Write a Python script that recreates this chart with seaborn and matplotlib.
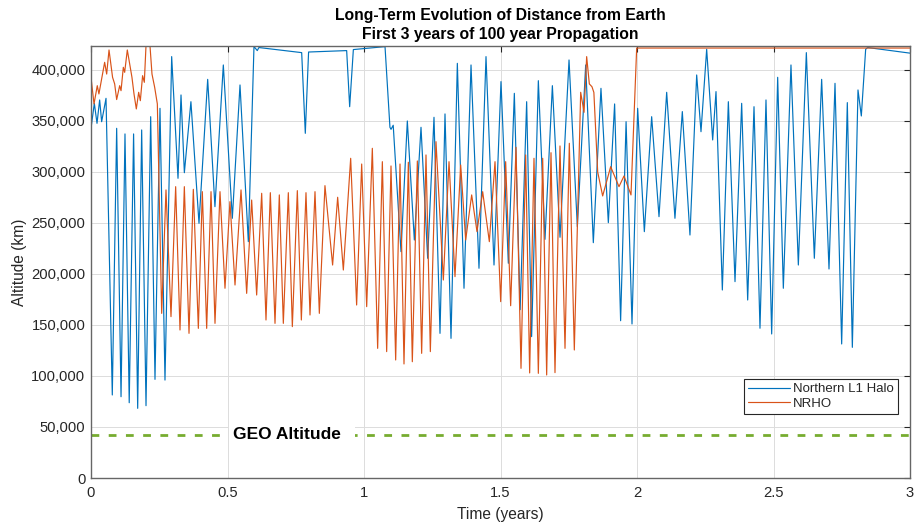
import numpy as np
import pandas as pd
import matplotlib
matplotlib.use("Agg")
import matplotlib.pyplot as plt
from matplotlib.ticker import FuncFormatter
import seaborn as sns

# ------------------------------------------------------------
# values (time in years, altitude in 1000 km)
# ------------------------------------------------------------
halo_t = [0.0, 0.0122, 0.022, 0.0317, 0.039, 0.055, 0.078, 0.094, 0.110, 0.1245,
          0.140, 0.156, 0.171, 0.1856, 0.2015, 0.2186, 0.2344, 0.2527, 0.271, 0.2955,
          0.3187, 0.3297, 0.342, 0.366, 0.3956, 0.4274, 0.454, 0.4847, 0.5177, 0.5458,
          0.5763, 0.597, 0.609, 0.615, 0.7717, 0.785, 0.797, 0.9365, 0.9475, 0.961,
          1.077, 1.095, 1.099, 1.107, 1.1355, 1.1587, 1.1844, 1.2088, 1.2332, 1.2564,
          1.2784, 1.2967, 1.3187, 1.3419, 1.3663, 1.392, 1.4212, 1.4469, 1.4762, 1.5018,
          1.5287, 1.5507, 1.572, 1.5958, 1.614, 1.6386, 1.663, 1.69, 1.718, 1.751,
          1.7815, 1.812, 1.84, 1.868, 1.895, 1.918, 1.940, 1.96, 1.9817, 2.0024,
          2.0269, 2.0537, 2.0806, 2.1087, 2.139, 2.166, 2.194, 2.2186, 2.2344, 2.2552,
          2.2772, 2.2894, 2.3126, 2.3346, 2.359, 2.3834, 2.4054, 2.4286, 2.4505, 2.4725,
          2.4933, 2.5153, 2.536, 2.564, 2.591, 2.6203, 2.6496, 2.6764, 2.7033, 2.7253,
          2.7497, 2.7704, 2.7888, 2.8095, 2.8217, 2.8376, 2.845, 3.0]
halo_km = [342.8, 367.3, 347.7, 370.6, 349.3, 372.2, 81.4, 342.8, 79.7, 337.3,
           73.8, 337.3, 68.3, 341.2, 70.9, 354.2, 96.7, 362.4, 96.0, 413.1,
           293.8, 375.5, 299.3, 368.9, 249.7, 390.8, 266.0, 404.9, 254.6, 385.3,
           231.7, 423.0, 419.0, 422.0, 417.0, 337.9, 417.6, 419.0, 364.0, 420.0,
           422.9, 343.8, 341.8, 345.8, 221.9, 350.0, 233.3, 343.8, 215.4, 353.6,
           141.8, 356.9, 136.9, 406.5, 186.0, 404.9, 205.6, 413.1, 208.8, 388.6,
           210.5, 377.1, 165.0, 368.9, 138.6, 389.5, 234.0, 384.6, 236.0, 409.8,
           246.4, 404.9, 230.7, 382.0, 250.3, 366.7, 154.2, 349.3, 151.0, 362.4,
           241.5, 354.2, 256.2, 378.1, 254.6, 359.2, 238.2, 395.1, 339.5, 420.3,
           331.4, 378.8, 184.3, 368.9, 192.5, 367.3, 174.5, 364.0, 146.8, 370.6,
           141.2, 392.8, 186.0, 404.9, 208.8, 417.0, 215.4, 390.8, 204.9, 386.9,
           131.4, 368.0, 128.1, 380.4, 354.9, 420.3, 422.0, 416.5]

nrho_t = [0.0, 0.011, 0.023, 0.029, 0.038, 0.05, 0.0574, 0.066, 0.079, 0.0867,
          0.094, 0.105, 0.11, 0.1184, 0.1233, 0.133, 0.144, 0.150, 0.1575, 0.166,
          0.1746, 0.1807, 0.189, 0.1953, 0.2015, 0.209, 0.216, 0.2234, 0.2332, 0.243,
          0.2589, 0.2747, 0.293, 0.3101, 0.326, 0.3419, 0.359, 0.3748, 0.3932, 0.4078,
          0.4237, 0.4396, 0.4542, 0.4725, 0.4908, 0.509, 0.5275, 0.5495, 0.5702, 0.5885,
          0.6068, 0.6252, 0.641, 0.6569, 0.674, 0.6898, 0.7045, 0.7228, 0.7375, 0.7558,
          0.7705, 0.7875, 0.8022, 0.8205, 0.8364, 0.857, 0.885, 0.9035, 0.9243, 0.9512,
          0.973, 0.9915, 1.0098, 1.0305, 1.05, 1.0672, 1.083, 1.0989, 1.116, 1.1319,
          1.1465, 1.1624, 1.177, 1.1954, 1.2112, 1.2271, 1.243, 1.2637, 1.2906, 1.3114,
          1.3333, 1.3541, 1.3724, 1.3944, 1.4139, 1.4347, 1.4591, 1.4799, 1.5006, 1.5189,
          1.5372, 1.5568, 1.5751, 1.5922, 1.6068, 1.6227, 1.6386, 1.6545, 1.6691, 1.685,
          1.6996, 1.7179, 1.7363, 1.7521, 1.7704, 1.7937, 1.806, 1.8156, 1.8254, 1.835,
          1.842, 1.856, 1.8742, 1.9035, 1.934, 1.9524, 1.978, 1.9988, 3.0]
nrho_km = [392.8, 366.7, 384.6, 376.5, 390.0, 407.5, 396.0, 419.6, 392.8, 386.3,
           371.0, 384.6, 379.7, 402.6, 397.7, 419.6, 402.6, 392.8, 376.5, 361.8,
           378.1, 369.9, 394.4, 387.9, 424.0, 428.0, 424.0, 396.0, 383.0, 366.7,
           161.4, 282.4, 158.2, 285.6, 145.1, 285.6, 141.8, 283.0, 146.7, 280.7,
           146.7, 280.7, 151.6, 280.7, 186.0, 270.9, 189.2, 282.4, 181.0, 272.5,
           179.4, 279.1, 154.9, 279.7, 151.6, 277.5, 151.6, 279.7, 148.4, 281.7,
           154.9, 279.7, 159.8, 280.7, 161.4, 286.6, 208.8, 275.2, 203.9, 313.4,
           169.6, 307.8, 168.0, 323.2, 127.1, 310.1, 123.9, 305.9, 115.7, 307.8,
           111.8, 309.5, 114.0, 310.8, 122.2, 316.7, 123.9, 329.7, 194.1, 310.1,
           197.4, 306.9, 233.3, 277.5, 241.5, 280.7, 231.7, 310.1, 172.9, 310.1,
           168.9, 324.2, 107.5, 316.7, 103.0, 313.4, 102.6, 313.4, 101.0, 318.9,
           103.3, 325.5, 127.1, 328.1, 125.5, 378.1, 358.5, 413.1, 386.3, 383.6,
           378.0, 300.0, 276.5, 305.2, 285.6, 296.1, 277.5, 421.5, 421.5]

geo_km = 42164
series_names = ["Northern L1 Halo", "NRHO"]
series_colors = ["#0072BD", "#D95319"]
x_ticks = [0, 0.5, 1, 1.5, 2, 2.5, 3]
y_ticks = list(range(0, 400001, 50000))

# ------------------------------------------------------------
# figure
# ------------------------------------------------------------
sns.set_theme(style="whitegrid")
plt.rcParams['font.family'] = ['Liberation Sans', 'DejaVu Sans']

fig = plt.figure(figsize=(9.16, 5.27), dpi=100)
ax = fig.add_axes([91/916, 49/527, 819/916, 432/527])

df = pd.concat([
    pd.DataFrame({"t": halo_t, "alt": np.array(halo_km) * 1000, "orbit": series_names[0]}),
    pd.DataFrame({"t": nrho_t, "alt": np.array(nrho_km) * 1000, "orbit": series_names[1]}),
], ignore_index=True)

sns.lineplot(data=df, x="t", y="alt", hue="orbit", hue_order=series_names,
             palette=series_colors, sort=False, estimator=None, lw=0.85, ax=ax)

ax.axhline(geo_km, color="#77AC30", lw=2.0, ls=(0, (2.8, 3.4)), zorder=1)
ax.text(0.52, geo_km, "GEO Altitude  ", ha="left", va="center", fontsize=12.5,
        fontweight="bold", color="black",
        bbox=dict(facecolor="white", edgecolor="none", pad=3.0), zorder=2)

ax.set_xlim(0, 3)
ax.set_ylim(0, 423500)
ax.set_xticks(x_ticks)
ax.set_yticks(y_ticks)
ax.xaxis.set_major_formatter(FuncFormatter(lambda v, p: f"{v:g}"))
ax.yaxis.set_major_formatter(FuncFormatter(lambda v, p: f"{v:,.0f}"))
ax.tick_params(direction="in", length=4, width=0.8, color="#262626",
               labelsize=10.6, labelcolor="#262626", top=True, right=True, pad=4)
ax.tick_params(axis="x", pad=6)
ax.grid(True, color="#dcdcdc", lw=0.7)
for s in ax.spines.values():
    s.set_color("#666666")
    s.set_linewidth(1.0)

ax.set_xlabel("Time (years)", fontsize=11.2, color="#262626", labelpad=5)
ax.set_ylabel("Altitude (km)", fontsize=11.2, color="#262626", labelpad=3)
ax.set_title("Long-Term Evolution of Distance from Earth\nFirst 3 years of 100 year Propagation",
             fontsize=11.3, fontweight="bold", color="black", pad=5, linespacing=1.3)

leg = ax.legend(loc="lower right", bbox_to_anchor=(0.9853, 0.148), borderaxespad=0,
                fontsize=9.5, handlelength=3.2, labelspacing=0.2, fancybox=False,
                frameon=True, borderpad=0.3, handletextpad=0.25)
leg.get_frame().set_edgecolor("#262626")
leg.get_frame().set_linewidth(0.8)
leg.get_frame().set_alpha(1)

fig.savefig("out.png", dpi=100)
